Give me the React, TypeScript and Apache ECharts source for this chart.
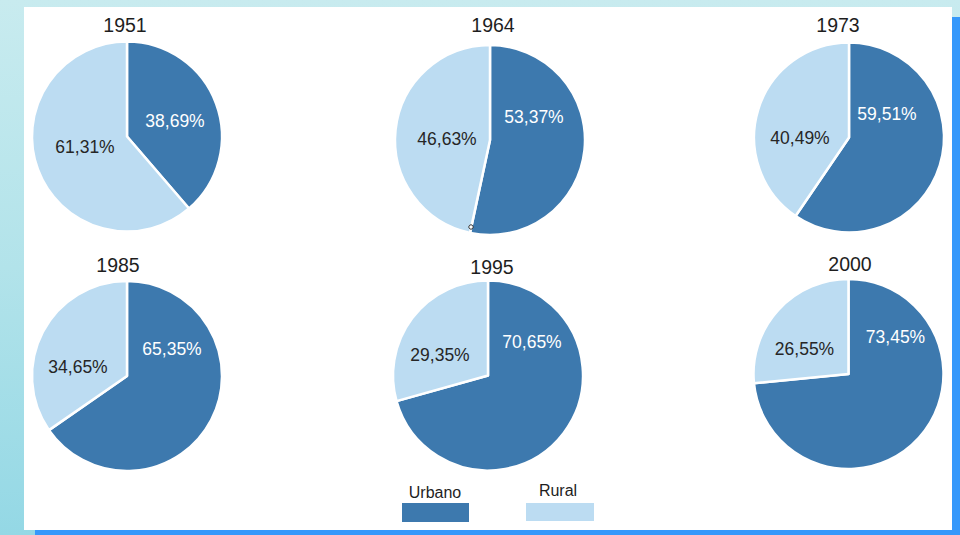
import React, { useEffect, useRef } from 'react';
import * as echarts from 'echarts';

// ---- data ----
const years = ['1951', '1964', '1973', '1985', '1995', '2000'];
const urbanoPct = [38.69, 53.37, 59.51, 65.35, 70.65, 73.45];
const ruralPct = [61.31, 46.63, 40.49, 34.65, 29.35, 26.55];
const seriesNames = ['Urbano', 'Rural'];

// ---- layout / style ----
const URBAN_COLOR = '#3d79ae';
const RURAL_COLOR = '#bcdcf2';
const FONT = "'Liberation Sans', Arial, sans-serif";
const PIE_RADIUS = 95;
const pieCenters = [
  [127, 136.5],
  [490, 140],
  [849, 137.5],
  [127, 376],
  [488, 375.5],
  [848.5, 374],
];
const titleCenters = [
  [125, 25],
  [493, 25],
  [838, 25],
  [118, 265],
  [492, 267],
  [850, 264],
];
// label centre offsets from the pie centre: [urbano, rural]
const labelOffsets = [
  [[48, -15.5], [-42, 10.5]],
  [[44, -23], [-43, -1]],
  [[38, -23.5], [-49, 0.5]],
  [[45, -27], [-49, -9]],
  [[44, -34], [-48, -21]],
  [[47, -37], [-44, -25]],
];
const legendLayout = [
  { rect: [402, 503, 67, 19], text: [435, 492] },
  { rect: [526, 503, 68, 18], text: [558, 490] },
];

const fmt = (v: number) => v.toFixed(2).replace('.', ',') + '%';

export default function App() {
  const ref = useRef<HTMLDivElement>(null);

  useEffect(() => {
    if (!ref.current) return;
    const chart = echarts.init(ref.current, undefined, { renderer: 'svg' });

    const series = years.map((year, i) => ({
      type: 'pie',
      name: year,
      center: pieCenters[i],
      radius: PIE_RADIUS,
      startAngle: 90,
      clockwise: true,
      silent: true,
      animation: false,
      emphasis: { disabled: true },
      labelLine: { show: false },
      itemStyle: { borderColor: '#ffffff', borderWidth: 2.5 },
      label: {
        show: true,
        position: 'inside',
        fontFamily: FONT,
        fontSize: 17.5,
        formatter: (p: any) => fmt(p.value),
      },
      labelLayout: (p: any) => {
        const off = labelOffsets[i][p.dataIndex];
        return { x: pieCenters[i][0] + off[0], y: pieCenters[i][1] + off[1] };
      },
      data: [
        {
          name: seriesNames[0],
          value: urbanoPct[i],
          itemStyle: { color: URBAN_COLOR },
          label: { color: '#ffffff' },
        },
        {
          name: seriesNames[1],
          value: ruralPct[i],
          itemStyle: { color: RURAL_COLOR },
          label: { color: '#262626' },
        },
      ],
    }));

    const titles = years.map((year, i) => ({
      text: year,
      left: titleCenters[i][0],
      top: titleCenters[i][1],
      textAlign: 'center',
      textVerticalAlign: 'middle',
      padding: 0,
      textStyle: {
        fontFamily: FONT,
        fontSize: 19.5,
        fontWeight: 'normal',
        color: '#1e1e1e',
      },
    }));

    const legendColors = [URBAN_COLOR, RURAL_COLOR];
    const legendGraphics: any[] = [];
    seriesNames.forEach((name, k) => {
      const L = legendLayout[k];
      legendGraphics.push({
        type: 'rect',
        shape: { x: L.rect[0], y: L.rect[1], width: L.rect[2], height: L.rect[3] },
        style: { fill: legendColors[k] },
        silent: true,
      });
      legendGraphics.push({
        type: 'text',
        x: L.text[0],
        y: L.text[1],
        style: {
          text: name,
          fontFamily: FONT,
          fontSize: 16,
          fill: '#1e1e1e',
          align: 'center',
          verticalAlign: 'middle',
        },
        silent: true,
      });
    });

    chart.setOption({
      animation: false,
      backgroundColor: 'transparent',
      title: titles,
      graphic: [
        // white panel
        {
          type: 'rect',
          z: -10,
          shape: { x: 24, y: 7, width: 928, height: 523 },
          style: { fill: '#ffffff' },
          silent: true,
        },
        // blue frame strips
        {
          type: 'rect',
          z: -10,
          shape: { x: 952, y: 17, width: 8, height: 518 },
          style: { fill: '#3598fb' },
          silent: true,
        },
        {
          type: 'rect',
          z: -10,
          shape: { x: 35, y: 530, width: 925, height: 5 },
          style: { fill: '#3598fb' },
          silent: true,
        },
        // small marker artefact at the 1964 slice edge
        {
          type: 'circle',
          z: 10,
          shape: { cx: 471, cy: 227, r: 2.2 },
          style: { fill: '#ffffff', stroke: '#333333', lineWidth: 1 },
          silent: true,
        },
        ...legendGraphics,
      ],
      series,
    });

    return () => chart.dispose();
  }, []);

  return (
    <div
      style={{
        position: 'fixed',
        left: 0,
        top: 0,
        width: 960,
        height: 535,
        background: 'linear-gradient(to bottom, #c8ebef 0%, #b2e3ea 50%, #94d8e5 100%)',
      }}
    >
      <div ref={ref} style={{ width: 960, height: 535 }} />
    </div>
  );
}
